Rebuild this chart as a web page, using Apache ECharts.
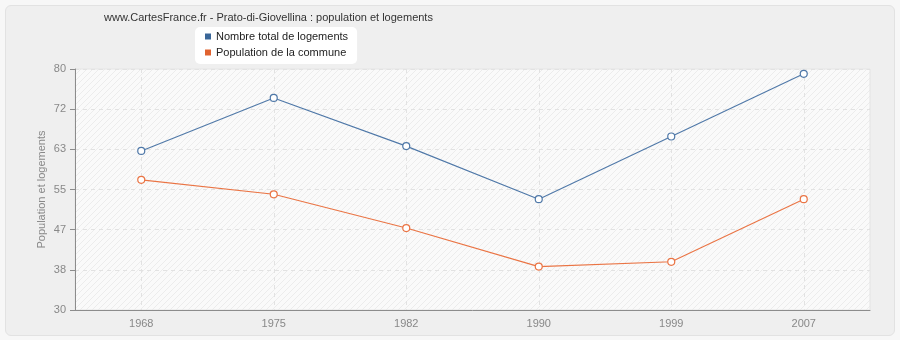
<!DOCTYPE html>
<html>
<head>
<meta charset="utf-8">
<script src="https://cdn.jsdelivr.net/npm/echarts@6/dist/echarts.min.js"></script>
<style>
html,body{margin:0;padding:0;background:#f7f7f7;}
#wrap{position:absolute;left:5px;top:5px;width:888px;height:329px;background:#efefef;border:1px solid #e2e2e2;border-radius:6px;}
#chart{position:absolute;left:0;top:0;width:900px;height:340px;}
</style>
</head>
<body>
<div id="wrap"></div>
<div id="chart"></div>
<script>
const titleText = 'www.CartesFrance.fr - Prato-di-Giovellina : population et logements';
const categories = ['1968', '1975', '1982', '1990', '1999', '2007'];
const logements = [63, 74, 64, 53, 66, 79];
const population = [57, 54, 47, 39, 40, 53];
const seriesNames = ['Nombre total de logements', 'Population de la commune'];
const yMin = 30, yMax = 80, ySteps = 6;

const pc = document.createElement('canvas');
pc.width = 6; pc.height = 6;
const ctx = pc.getContext('2d');
ctx.fillStyle = '#fafafa';
ctx.fillRect(0, 0, 6, 6);
ctx.strokeStyle = '#ececec';
ctx.lineWidth = 1;
ctx.beginPath();
ctx.moveTo(-1, 7); ctx.lineTo(7, -1);
ctx.moveTo(-1, 1); ctx.lineTo(1, -1);
ctx.moveTo(5, 7); ctx.lineTo(7, 5);
ctx.stroke();

const font = '"Liberation Sans", Arial, sans-serif';
const blue = '#4f78a8', orange = '#ea7444';
const chart = echarts.init(document.getElementById('chart'), null, {renderer: 'canvas'});
chart.setOption({
  animation: false,
  backgroundColor: 'transparent',
  title: {
    text: titleText, left: 99, top: 7,
    textStyle: {fontFamily: font, fontSize: 11, fontWeight: 'normal', color: '#333'}
  },
  legend: {
    left: 195, top: 27, orient: 'vertical',
    backgroundColor: '#ffffff', borderRadius: 5,
    padding: [4, 9, 6, 10],
    itemGap: 5, itemWidth: 6, itemHeight: 6,
    icon: 'rect',
    textStyle: {fontFamily: font, fontSize: 11, color: '#222'},
    data: [
      {name: seriesNames[0], itemStyle: {color: '#3a6698', borderWidth: 0}},
      {name: seriesNames[1], itemStyle: {color: '#e0622f', borderWidth: 0}}
    ]
  },
  grid: {
    left: 75, right: 30, top: 69, bottom: 30,
    show: true, backgroundColor: {image: pc, repeat: 'repeat'},
    borderColor: '#e4e4e4', borderWidth: 1
  },
  xAxis: {
    type: 'category', data: categories, boundaryGap: true,
    axisLine: {lineStyle: {color: '#8c8c8c'}},
    axisTick: {alignWithLabel: true, length: 5, lineStyle: {color: '#8c8c8c'}},
    axisLabel: {fontFamily: font, fontSize: 11, color: '#888', margin: 8},
    splitLine: {show: true, alignWithLabel: true, lineStyle: {color: '#e2e2e2', type: [4, 4]}}
  },
  yAxis: {
    type: 'value', min: yMin, max: yMax, interval: (yMax - yMin) / ySteps + 0.00001,
    name: 'Population et logements', nameLocation: 'middle', nameGap: 28,
    nameMoveOverlap: false,
    nameTextStyle: {fontFamily: font, fontSize: 11, color: '#888'},
    axisLine: {show: true, lineStyle: {color: '#8c8c8c'}},
    axisTick: {show: true, length: 5, lineStyle: {color: '#8c8c8c'}},
    axisLabel: {fontFamily: font, fontSize: 11, color: '#888', margin: 9, formatter: v => Math.round(v)},
    splitLine: {show: true, lineStyle: {color: '#e2e2e2', type: [4, 4]}}
  },
  series: [
    {
      name: seriesNames[0], type: 'line', data: logements,
      symbol: 'circle', symbolSize: 7,
      itemStyle: {color: '#ffffff', borderColor: blue, borderWidth: 1.2},
      lineStyle: {color: blue, width: 1.1}
    },
    {
      name: seriesNames[1], type: 'line', data: population,
      symbol: 'circle', symbolSize: 7,
      itemStyle: {color: '#ffffff', borderColor: orange, borderWidth: 1.2},
      lineStyle: {color: orange, width: 1.1}
    }
  ]
});
</script>
</body>
</html>
